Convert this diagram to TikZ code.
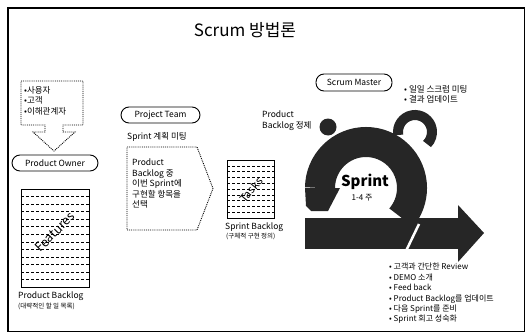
\documentclass[tikz,border=0pt]{standalone}
\usepackage{fontspec}
\setmainfont{Noto Sans CJK KR}
\begin{document}
\begin{tikzpicture}[x=1pt,y=-1pt,
  tag/.style={draw, rounded corners=8pt, line width=0.9pt, inner sep=1pt,
    font=\fontsize{8.5}{10}\selectfont},
  dotline/.style={densely dotted, line width=0.9pt},
  listbox/.style={draw, line width=0.9pt},
  rowline/.style={densely dashed, line width=0.45pt},
  small/.style={font=\fontsize{8.5}{10.5}\selectfont, align=left},
  tiny/.style={font=\fontsize{6.5}{8}\selectfont},
  dark/.style={fill=black!85},
  ringline/.style={draw=black!85, line width=30pt}]
\useasboundingbox (0,0) rectangle (526,334);

% frame and title
\draw[line width=1.6pt] (8,8) rectangle (524.5,331.5);
\node (title) at (245,30) {\fontsize{17}{20}\selectfont Scrum 방법론};

% stakeholders callout pointing down to the product owner
\draw[dotline] (21,81) -- (83,81) -- (83,125) -- (63,125) -- (63,132) -- (75,132)
  -- (54,151) -- (33,132) -- (45,132) -- (45,125) -- (21,125) -- cycle;
\node[small, anchor=north west, inner sep=0pt] (stake) at (24,86) {•사용자\\•고객\\•이해관계자};
\node[tag, minimum width=86pt, minimum height=16pt] (po) at (55,163) {Product Owner};

% product backlog
\draw[listbox] (21,189) rectangle (89,287);
\foreach \k in {1,...,12} \draw[rowline] (21,{189+\k*7.54}) -- (89,{189+\k*7.54});
\node[rotate=45, font=\fontsize{12.5}{14}\selectfont] (feat) at (55,232) {Features};
\node[small, anchor=north west, inner sep=0pt] (pbcap) at (18,292) {Product Backlog};
\node[tiny, anchor=north west, inner sep=0pt] (pbsub) at (18,303) {(대략적인 할 일 목록)};

% project team and sprint planning
\node[tag, minimum width=79pt, minimum height=16pt] (team) at (160.5,115) {Project Team};
\node[small, anchor=west, inner sep=0pt] (plan) at (127,137) {Sprint 계획 미팅};
\draw[dotline] (127,147) -- (197,147) -- (213,188.5) -- (197,230) -- (127,230) -- cycle;
\node[small, anchor=north west, inner sep=0pt] (select) at (132,159)
  {Product\\Backlog 중\\이번 Sprint에\\구현할 항목을\\선택};

% sprint backlog
\draw[listbox] (227,160) rectangle (274,218);
\foreach \k in {1,...,9} \draw[rowline] (227,{160+\k*5.8}) -- (274,{160+\k*5.8});
\node[rotate=50, font=\fontsize{11}{13}\selectfont] (tasks) at (251,190) {Tasks};
\node[small, anchor=north west, inner sep=0pt] (sbcap) at (225,223) {Sprint Backlog};
\node[tiny, anchor=north west, inner sep=0pt] (sbsub) at (226,233) {(구체적 구현 정의)};

\node[small, anchor=north west, inner sep=0pt] (refine) at (262,111) {Product\\Backlog 정제};

% scrum master
\node[tag, minimum width=76pt, minimum height=17pt] (sm) at (354,82.5) {Scrum Master};
\node[small, anchor=north west, inner sep=0pt] (daily) at (404,85) {• 일일 스크럼 미팅\\• 결과 업데이트};

% sprint cycle: exit arrow, loop with its head, knob and hook
\fill[dark] (305,218) rectangle (458,249);
\fill[dark] (458,205) -- (484,233) -- (458,262) -- cycle;
\draw[ringline] (366,188) ++(180:46) arc[start angle=180, end angle=400, radius=46];
\fill[dark] (305,188) -- (306,206) -- (311,211) -- (328,211) -- (340,188) -- cycle;
\draw[white, line width=2.5pt] (406,251) -- (419,224);
\fill[dark] (328,127) circle (8.5);
\draw[draw=black!85, line width=10pt] (415,132) ++(170:17) arc[start angle=170, end angle=405, radius=17];
\node[font=\bfseries\fontsize{15}{17}\selectfont] (sprint) at (365,182) {Sprint};
\node[font=\fontsize{8}{10}\selectfont] (weeks) at (362,198) {1-4 주};

% review activities
\node[font=\fontsize{8}{10.4}\selectfont, align=left, anchor=north west, inner sep=0pt] (review) at (389,263)
  {• 고객과 간단한 Review\\• DEMO 소개\\• Feed back\\• Product Backlog를 업데이트\\• 다음 Sprint를 준비\\• Sprint 회고 성숙화};
\end{tikzpicture}
\end{document}
